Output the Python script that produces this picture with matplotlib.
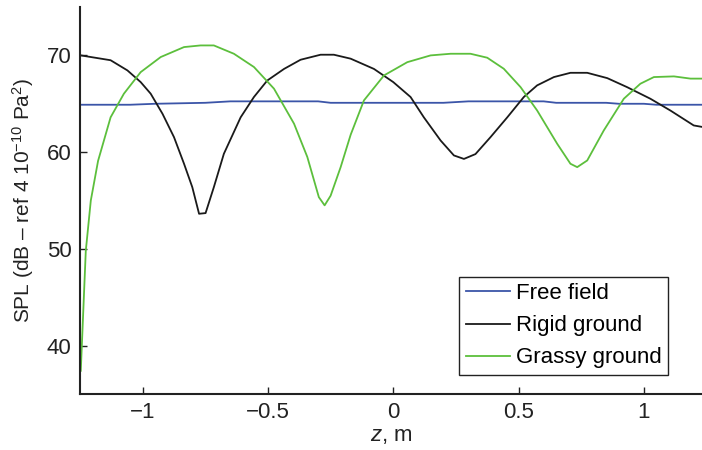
import matplotlib
matplotlib.use('Agg')
import matplotlib.pyplot as plt

plt.rcParams['font.family'] = ['Liberation Sans', 'DejaVu Sans']
plt.rcParams['mathtext.fontset'] = 'custom'
plt.rcParams['mathtext.rm'] = 'Liberation Sans'
plt.rcParams['mathtext.it'] = 'Liberation Sans:italic'

# %% data
free_z = [-1.25, -1.05, -0.95, -0.75, -0.65, -0.3, -0.25, 0.0, 0.2, 0.3, 0.6, 0.65, 0.85, 0.9, 1.0, 1.05, 1.23]
free_spl = [64.9, 64.9, 65.0, 65.1, 65.25, 65.25, 65.1, 65.1, 65.1, 65.25, 65.25, 65.1, 65.1, 65.0, 65.0, 64.9, 64.9]

rigid_z = [-1.247, -1.128, -1.061, -1.008, -0.968, -0.921, -0.875, -0.835, -0.802, -0.775,
           -0.749, -0.716, -0.676, -0.609, -0.556, -0.503, -0.436, -0.37, -0.29, -0.237,
           -0.17, -0.077, 0.0, 0.069, 0.122, 0.189, 0.242, 0.282, 0.328, 0.388, 0.455,
           0.521, 0.574, 0.641, 0.707, 0.774, 0.854, 0.933, 1.026, 1.106, 1.199, 1.234]
rigid_spl = [70.0, 69.5, 68.45, 67.24, 66.04, 63.97, 61.55, 58.8, 56.38, 53.63,
             53.7, 56.38, 59.83, 63.6, 65.7, 67.4, 68.6, 69.55, 70.07, 70.07,
             69.66, 68.6, 67.24, 65.7, 63.6, 61.2, 59.66, 59.3, 59.8, 61.55, 63.6,
             65.7, 66.9, 67.76, 68.2, 68.2, 67.65, 66.72, 65.52, 64.3, 62.76, 62.6]

grassy_z = [-1.247, -1.227, -1.207, -1.178, -1.128, -1.075, -1.008, -0.928, -0.835, -0.769,
            -0.716, -0.636, -0.556, -0.476, -0.396, -0.343, -0.297, -0.274, -0.25, -0.21,
            -0.17, -0.117, -0.037, 0.056, 0.149, 0.229, 0.308, 0.375, 0.441, 0.508,
            0.574, 0.654, 0.707, 0.734, 0.774, 0.84, 0.92, 0.986, 1.04, 1.12, 1.186, 1.234]
grassy_spl = [37.4, 49.8, 55.0, 59.1, 63.6, 66.04, 68.27, 69.83, 70.86, 71.03,
              71.03, 70.17, 68.8, 66.56, 62.94, 59.5, 55.35, 54.5, 55.5, 58.45,
              61.8, 65.35, 67.93, 69.3, 70.0, 70.17, 70.17, 69.76, 68.62, 66.72,
              64.31, 60.87, 58.8, 58.45, 59.14, 62.24, 65.52, 67.07, 67.76, 67.83, 67.6, 67.6]

labels = ['Free field', 'Rigid ground', 'Grassy ground']
colors = ['#3b55a8', '#1a1a1a', '#5cbf3c']

# %% plot
fs = 16
fg = plt.figure(figsize=(7.02, 4.5), dpi=100)
ax = fg.add_axes([0.114, 0.1244, 0.886, 0.86])

ax.plot(free_z, free_spl, color=colors[0], lw=1.3, label=labels[0])
ax.plot(rigid_z, rigid_spl, color=colors[1], lw=1.3, label=labels[1])
ax.plot(grassy_z, grassy_spl, color=colors[2], lw=1.3, label=labels[2])

ax.set_xlim(-1.25, 1.232)
ax.set_ylim(35, 75)
ax.set_xticks([-1, -0.5, 0, 0.5, 1])
ax.set_xticklabels(['\u22121', '\u22120.5', '0', '0.5', '1'])
ax.set_yticks([40, 50, 60, 70])
ax.tick_params(direction='in', length=5, width=1, labelsize=fs, colors='#222222', pad=6)
for side in ['top', 'right']:
    ax.spines[side].set_visible(False)
for side in ['left', 'bottom']:
    ax.spines[side].set_linewidth(1.5)
    ax.spines[side].set_color('#222222')

ax.set_xlabel('$z$, m', fontsize=fs, color='#222222', labelpad=1)
ax.set_ylabel('SPL (dB \u2013 ref 4 10$^{-10}$ Pa$^{2}$)', fontsize=15, color='#222222', labelpad=8)

leg = ax.legend(loc='lower right', bbox_to_anchor=(0.946, 0.049), borderaxespad=0,
                fontsize=fs, fancybox=False, framealpha=1, edgecolor='#222222',
                handlelength=2.0, handletextpad=0.25, labelspacing=0.5, borderpad=0.3)
leg.get_frame().set_linewidth(1.0)

fg.savefig('out.png', dpi=100)
